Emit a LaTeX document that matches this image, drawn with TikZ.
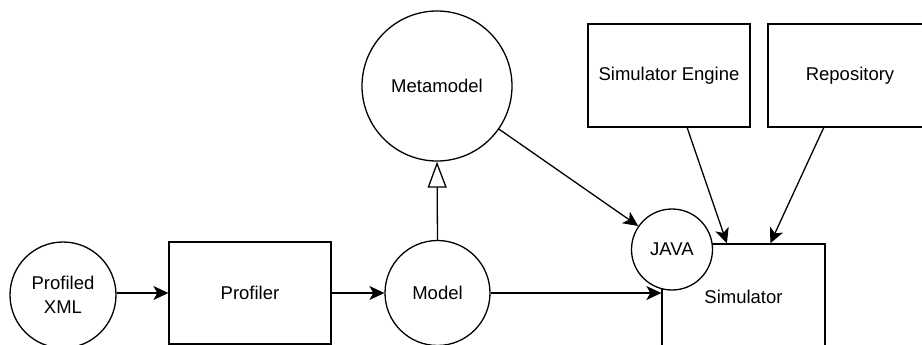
\documentclass[tikz,border=0pt]{standalone}
\usepackage{fontspec}
\setmainfont{Liberation Sans}
\usetikzlibrary{arrows.meta,calc}
\begin{document}
\begin{tikzpicture}[x=1pt,y=-1pt,
  every node/.style={font=\fontsize{18.5}{22}\selectfont, line width=1.3pt, inner sep=0pt},
  circ/.style={draw, circle, fill=white, align=center},
  box/.style={draw, rectangle, fill=white, align=center},
  conn/.style={line width=1.3pt, -{Stealth[length=15pt,width=14pt,inset=4pt]}},
  inh/.style={line width=1.3pt, -{Triangle[open,length=26pt,width=19pt,line width=1.3pt]}}
]
\clip (0,0) rectangle (922,345);
\fill[white] (0,0) rectangle (922,345);
\node[circ, minimum size=106pt] (xml) at (63,295) {Profiled\\[2pt]XML};
\node[box, minimum width=162pt, minimum height=102pt] (profiler) at (250,293) {Profiler};
\node[circ, minimum size=105pt] (model) at (437.5,293) {Model};
\node[circ, minimum size=150pt] (meta) at (437,86) {Metamodel};
\node[box, minimum width=163pt, minimum height=106pt] (sim) at (743.5,297) {Simulator};
\node[circ, minimum size=81pt] (java) at (672,249.5) {JAVA};
\node[box, minimum width=162pt, minimum height=103pt] (engine) at (669,75.5) {Simulator Engine};
\node[box, minimum width=164pt, minimum height=103pt] (repo) at (850,75.5) {Repository};

\draw[conn] (profiler.west -| xml.east) -- (profiler.west);
\draw[conn] (profiler.east) -- (model.west);
\draw[inh] (model.north) -- (meta.south);
\draw[conn] (meta) -- (java);
\draw[conn] (model.east) -- (model.east -| sim.west);
\draw[conn] ($(engine.south west)!0.611!(engine.south east)$) -- ($(sim.north west)!0.399!(sim.north east)$);
\draw[conn] ($(repo.south west)!0.341!(repo.south east)$) -- ($(sim.north west)!0.663!(sim.north east)$);
\end{tikzpicture}
\end{document}
